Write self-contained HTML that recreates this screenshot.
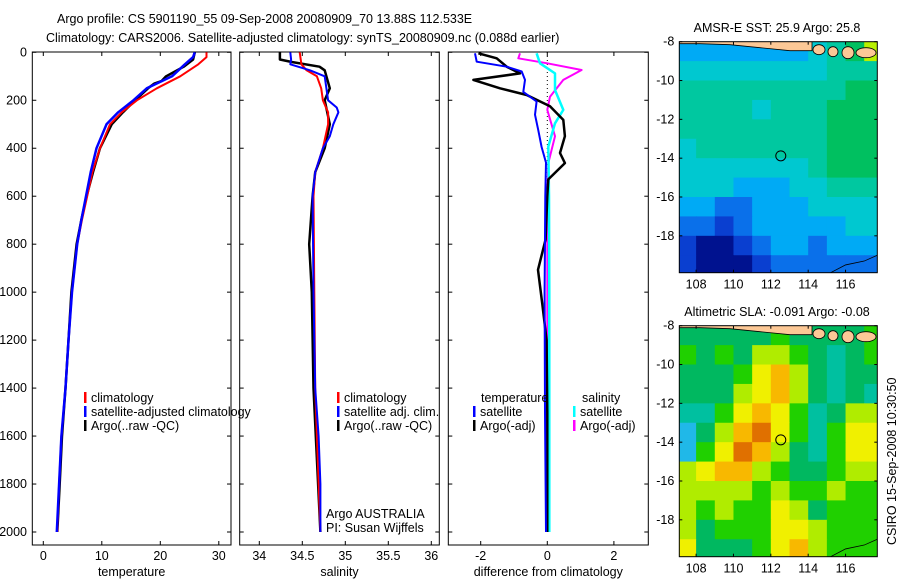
<!DOCTYPE html>
<html><head><meta charset="utf-8">
<style>
html,body{margin:0;padding:0;background:#fff;}
svg{display:block;font-family:"Liberation Sans",sans-serif;}
text{font-size:12.5px;fill:#000;}
</style></head>
<body>
<svg id="fig" width="900" height="580" viewBox="0 0 900 580" xmlns="http://www.w3.org/2000/svg">
<rect x="0" y="0" width="900" height="580" fill="#fff"/>
<text x="57" y="23">Argo profile: CS 5901190_55 09-Sep-2008 20080909_70 13.88S 112.533E</text>
<text x="46" y="42">Climatology: CARS2006. Satellite-adjusted climatology: synTS_20080909.nc (0.088d earlier)</text>
<text x="777" y="32" text-anchor="middle">AMSR-E SST: 25.9 Argo: 25.8</text>
<text x="777" y="316" text-anchor="middle">Altimetric SLA: -0.091 Argo: -0.08</text>
<text transform="translate(896,545) rotate(-90)">CSIRO 15-Sep-2008 10:30:50</text>
<g id="layer"></g>
</svg>
<script>
// ---- depth axis data ----
var depthTicks=[0,200,400,600,800,1000,1200,1400,1600,1800,2000];
// Temperature profiles
var tClimDepth=[0,20,50,100,150,200,250,300,400,500,600,700,800,1000,1200,1400,1600,1800,2000];
var tClim=[27.9,27.9,26.5,23.4,19.4,16.0,13.4,11.4,9.7,8.4,7.5,6.6,5.8,4.9,4.3,3.8,3.1,2.7,2.4];
var tSatDepth=[0,20,50,100,150,200,250,300,400,500,600,700,800,1000,1200,1400,1600,1800,2000];
var tSat=[25.9,25.6,24.2,22.0,17.7,15.4,12.8,10.8,9.1,8.1,7.3,6.5,5.8,4.9,4.3,3.8,3.1,2.7,2.3];
var tArgoDepth=[0,30,60,100,120,130,150,200,250,300,400,500,600,700,800,1000,1200,1400,1600,1800,2000];
var tArgo=[25.9,25.6,24.0,21.0,20.2,19.0,17.9,15.7,13.6,11.7,9.7,8.5,7.4,6.5,5.7,4.8,4.3,3.8,3.2,2.8,2.4];
// Salinity profiles
var sClimDepth=[0,50,75,100,150,200,250,300,400,500,600,1000,1400,2000];
var sClim=[34.47,34.49,34.55,34.67,34.72,34.74,34.8,34.8,34.74,34.65,34.63,34.64,34.65,34.71];
var sSatDepth=[0,30,50,75,100,150,200,230,250,300,350,400,500,600,1000,1400,1600,1800,2000];
var sSat=[34.36,34.37,34.36,34.59,34.76,34.78,34.8,34.9,34.92,34.86,34.82,34.74,34.65,34.62,34.63,34.65,34.69,34.71,34.71];
var sArgoDepth=[0,30,40,60,75,100,150,200,300,400,500,600,800,1000,1400,2000];
var sArgo=[34.24,34.24,34.37,34.7,34.76,34.78,34.82,34.76,34.82,34.76,34.65,34.62,34.58,34.61,34.63,34.71];
// Differences from climatology
var dTSatDepth=[4,39,60,80,115,165,205,260,325,395,460,600,1000,1500,2000];
var dTSat=[-2.17,-2.12,-1.22,-0.77,-0.67,-0.72,-0.32,-0.37,-0.27,-0.17,-0.04,-0.06,-0.08,-0.07,-0.04];
var dTArgoDepth=[4,25,60,88,115,150,178,225,282,350,420,462,530,600,780,907,1050,1200,1500,2000];
var dTArgo=[-2.07,-1.52,-1.22,-0.82,-2.22,-1.42,-0.62,0.08,0.48,0.53,0.38,0.53,0.03,0.0,-0.05,-0.28,-0.15,-0.02,0.0,0.0];
var dSSatDepth=[4,46,88,157,240,296,393,600,1000,1500,2000];
var dSSat=[-0.32,-0.22,0.23,0.23,0.48,0.23,0.03,0.05,0.06,0.06,0.06];
var dSArgoDepth=[4,25,46,74,115,185,240,350,462,600,1000,2000];
var dSArgo=[-0.82,-0.87,0.0,1.03,0.48,0.08,0.0,0.23,0.03,0.0,0.0,0.0];
var tTicks=[0,10,20,30];
var sTicks=[34,34.5,35,35.5,36];
var dTicks=[-2,0,2];
// Map data (1-degree cells, rows lat -8..-20, cols lon 107..118)
var latTicks=[-8,-10,-12,-14,-16,-18];
var lonTicks=[108,110,112,114,116];
var sstGrid=[
[3,3,3,3,3,3,3,4,5,6,7],
[4,4,4,4,4,4,4,4,5,5,5],
[5,5,5,5,5,5,5,5,5,6,6],
[5,5,5,5,4,5,5,5,6,6,6],
[5,5,5,5,5,5,5,5,6,6,6],
[4,5,5,5,5,5,5,5,6,6,6],
[4,4,4,4,4,4,4,5,6,6,6],
[4,4,4,3,3,3,4,4,5,5,5],
[3,3,2,2,3,3,3,4,4,4,4],
[2,2,1,2,3,3,3,3,3,4,4],
[1,0,0,1,2,3,3,2,3,3,3],
[1,0,0,0,1,2,2,2,2,2,2]];
var slaGrid=[
[2,2,2,2,2,3,2,2,2,2,3],
[3,2,3,2,4,4,3,2,1,2,3],
[2,2,2,3,5,6,4,2,1,2,2],
[2,2,2,4,5,6,4,2,1,2,1],
[1,1,3,5,6,5,3,1,2,4,4],
[0,2,4,6,7,5,3,1,3,5,5],
[0,3,5,7,6,4,2,1,3,5,5],
[4,5,6,6,4,3,2,2,3,4,4],
[4,4,4,4,3,4,3,3,4,3,3],
[4,3,4,3,3,5,4,2,3,3,3],
[4,2,3,3,3,5,5,4,3,3,3],
[5,2,2,2,3,5,6,4,3,3,3]];
var argoLon=112.533, argoLat=-13.88;

var sstPal=["#00128f","#0a3fd0","#0a70ea","#00aaf5","#00c8d0","#00c8a0","#00c060","#b8f000"];
var slaPal=["#20b8e8","#00c0a0","#00b860","#20d000","#b0ec00","#f0f000","#f8b800","#e07000"];
var NS="http://www.w3.org/2000/svg";
var layer=document.getElementById('layer');
function mk(tag,attrs,parent){var e=document.createElementNS(NS,tag);for(var k in attrs)e.setAttribute(k,attrs[k]);(parent||layer).appendChild(e);return e;}

var Y0=52.3, Y1=532, BOT=545, TOP=52;
function yD(d){return Y0+(Y1-Y0)*d/2000;}

function panel(name,x0,x1,xfn,ticks,fmt,label){
  var g=mk('g',{});
  
  
  mk('rect',{x:x0,y:TOP,width:x1-x0,height:BOT-TOP,fill:'none',stroke:'#000','stroke-width':1},g);
  ticks.forEach(function(t){
    var x=xfn(t);
    mk('line',{x1:x,y1:BOT,x2:x,y2:BOT-4,stroke:'#000'},g);
    mk('line',{x1:x,y1:TOP,x2:x,y2:TOP+4,stroke:'#000'},g);
    var tx=mk('text',{x:x,y:BOT+15,'text-anchor':'middle'},g);
    tx.textContent=fmt(t);
    
    
  });
  depthTicks.forEach(function(d){
    var y=yD(d);
    mk('line',{x1:x0,y1:y,x2:x0+4,y2:y,stroke:'#000'},g);
    mk('line',{x1:x1,y1:y,x2:x1-4,y2:y,stroke:'#000'},g);
  });
  var lt=mk('text',{x:(x0+x1)/2,y:BOT+31,'text-anchor':'middle'},g);
  lt.textContent=label;
  
  
  return g;
}
function line(g,name,depths,vals,xfn,color,w){
  var pts=depths.map(function(d,i){return xfn(vals[i]).toFixed(1)+','+yD(d).toFixed(1);}).join(' ');
  var p=mk('polyline',{points:pts,fill:'none',stroke:color,'stroke-width':w||2,'stroke-linejoin':'round'},g);
  
  
}
function legend(g,x,y,color,txt){
  mk('rect',{x:x,y:y-10,width:2.5,height:11,fill:color},g);
  var t=mk('text',{x:x+7,y:y},g);t.textContent=txt;
  
  
}

depthTicks.forEach(function(d){
  var t=mk('text',{x:27,y:yD(d)+4,'text-anchor':'end'});
  t.textContent=d;
  
  
});

var xT=function(v){return 43.3+5.85*v;};
var g1=panel('temperature-panel',32.3,231,xT,tTicks,function(t){return t;},'temperature');
line(g1,'temp-argo-line',tArgoDepth,tArgo,xT,'#000',2.5);
line(g1,'temp-climatology-line',tClimDepth,tClim,xT,'#f00',2);
line(g1,'temp-satellite-line',tSatDepth,tSat,xT,'#00f',2.5);
legend(g1,84,402,'#f00','climatology');
legend(g1,84,416,'#00f','satellite-adjusted climatology');
legend(g1,84,430,'#000','Argo(..raw -QC)');

var xS=function(v){return 259.3+86*(v-34);};
var g2=panel('salinity-panel',239.7,439.3,xS,sTicks,function(t){return t;},'salinity');
line(g2,'sal-argo-line',sArgoDepth,sArgo,xS,'#000',2.5);
line(g2,'sal-climatology-line',sClimDepth,sClim,xS,'#f00',2);
line(g2,'sal-satellite-line',sSatDepth,sSat,xS,'#00f',2);
legend(g2,337,402,'#f00','climatology');
legend(g2,337,416,'#00f','satellite adj. clim.');
legend(g2,337,430,'#000','Argo(..raw -QC)');
var a1=mk('text',{x:326,y:518},g2);a1.textContent='Argo AUSTRALIA';
var a2=mk('text',{x:326,y:532},g2);a2.textContent='PI: Susan Wijffels';

var xDf=function(v){return 547.3+33.3*v;};
var g3=panel('difference-panel',448.3,648.3,xDf,dTicks,function(t){return t;},'difference from climatology');
mk('line',{x1:xDf(0),y1:TOP,x2:xDf(0),y2:yD(600),stroke:'#000','stroke-dasharray':'1,3'},g3);
line(g3,'diff-sal-argo-line',dSArgoDepth,dSArgo,xDf,'#f0f',2);
line(g3,'diff-sal-satellite-line',dSSatDepth,dSSat,xDf,'#0ff',2.5);
line(g3,'diff-temp-argo-line',dTArgoDepth,dTArgo,xDf,'#000',2.5);
line(g3,'diff-temp-satellite-line',dTSatDepth,dTSat,xDf,'#00f',2);
var lt1=mk('text',{x:481,y:402},g3);lt1.textContent='temperature';
legend(g3,473,416,'#00f','satellite');
legend(g3,473,430,'#000','Argo(-adj)');
var lt2=mk('text',{x:582,y:402},g3);lt2.textContent='salinity';
legend(g3,573,416,'#0ff','satellite');
legend(g3,573,430,'#f0f','Argo(-adj)');

function map(name,top,grid,pal){
  var L=679.3,R=877.3,B=top+231,lon0=107.1,lon1=117.7,lat0=-8,lat1=-19.9;
  var lx=function(lo){return L+(lo-lon0)*(R-L)/(lon1-lon0);};
  var ly=function(la){return top+(la-lat0)*(B-top)/(lat1-lat0);};
  var g=mk('g',{});
  
  
  var cid='clip'+name;
  var cp=mk('clipPath',{id:cid},g);mk('rect',{x:L,y:top,width:R-L,height:B-top},cp);
  var cells=mk('g',{'clip-path':'url(#'+cid+')'},g);
  grid.forEach(function(row,r){row.forEach(function(v,c){
    var x=lx(107+c),y=ly(-8-r);
    var rc=mk('rect',{x:x,y:y,width:lx(108+c)-x+0.5,height:ly(-9-r)-y+0.5,fill:pal[v]},cells);
    
    
  });});
  var land=mk('path',{d:'M'+L+','+(top-1)+' L812,'+(top-1)+' L812,'+(top+9)+' L790,'+(top+9)+' L760,'+(top+6)+' L730,'+(top+3)+' L700,'+(top+2)+' L'+L+','+(top+2)+' Z',fill:'#fcc896',stroke:'#000','stroke-width':0.8},cells);
  
  
  [[819,top+8,6,5],[833,top+10,5,5],[848,top+11,6,6],[866,top+11,10,5]].forEach(function(e){
    var el=mk('ellipse',{cx:e[0],cy:e[1],rx:e[2],ry:e[3],fill:'#fcc896',stroke:'#000','stroke-width':0.8},cells);
    
    
  });
  mk('polyline',{points:lx(115.2)+','+B+' '+lx(116)+','+ly(-19.5)+' '+lx(117)+','+ly(-19.3)+' '+R+','+ly(-19.0),fill:'none',stroke:'#000','stroke-width':0.8},cells);
  mk('rect',{x:L,y:top,width:R-L,height:B-top,fill:'none',stroke:'#000'},g);
  lonTicks.forEach(function(t){
    var x=lx(t);
    mk('line',{x1:x,y1:B,x2:x,y2:B-3,stroke:'#000'},g);
    mk('line',{x1:x,y1:top,x2:x,y2:top+3,stroke:'#000'},g);
    var tx=mk('text',{x:x,y:B+16,'text-anchor':'middle'},g);tx.textContent=t;
    
    
  });
  latTicks.forEach(function(t){
    var y=ly(t);
    mk('line',{x1:L,y1:y,x2:L+3,y2:y,stroke:'#000'},g);
    mk('line',{x1:R,y1:y,x2:R-3,y2:y,stroke:'#000'},g);
    var tx=mk('text',{x:L-5,y:y+4,'text-anchor':'end'},g);tx.textContent=t;
    
    
  });
  var c=mk('circle',{cx:lx(argoLon),cy:ly(argoLat),r:5,fill:'none',stroke:'#000','stroke-width':1},g);
  
  
}
map('sst-map',41.7,sstGrid,sstPal);
map('sla-map',325.7,slaGrid,slaPal);
</script>
</body></html>
